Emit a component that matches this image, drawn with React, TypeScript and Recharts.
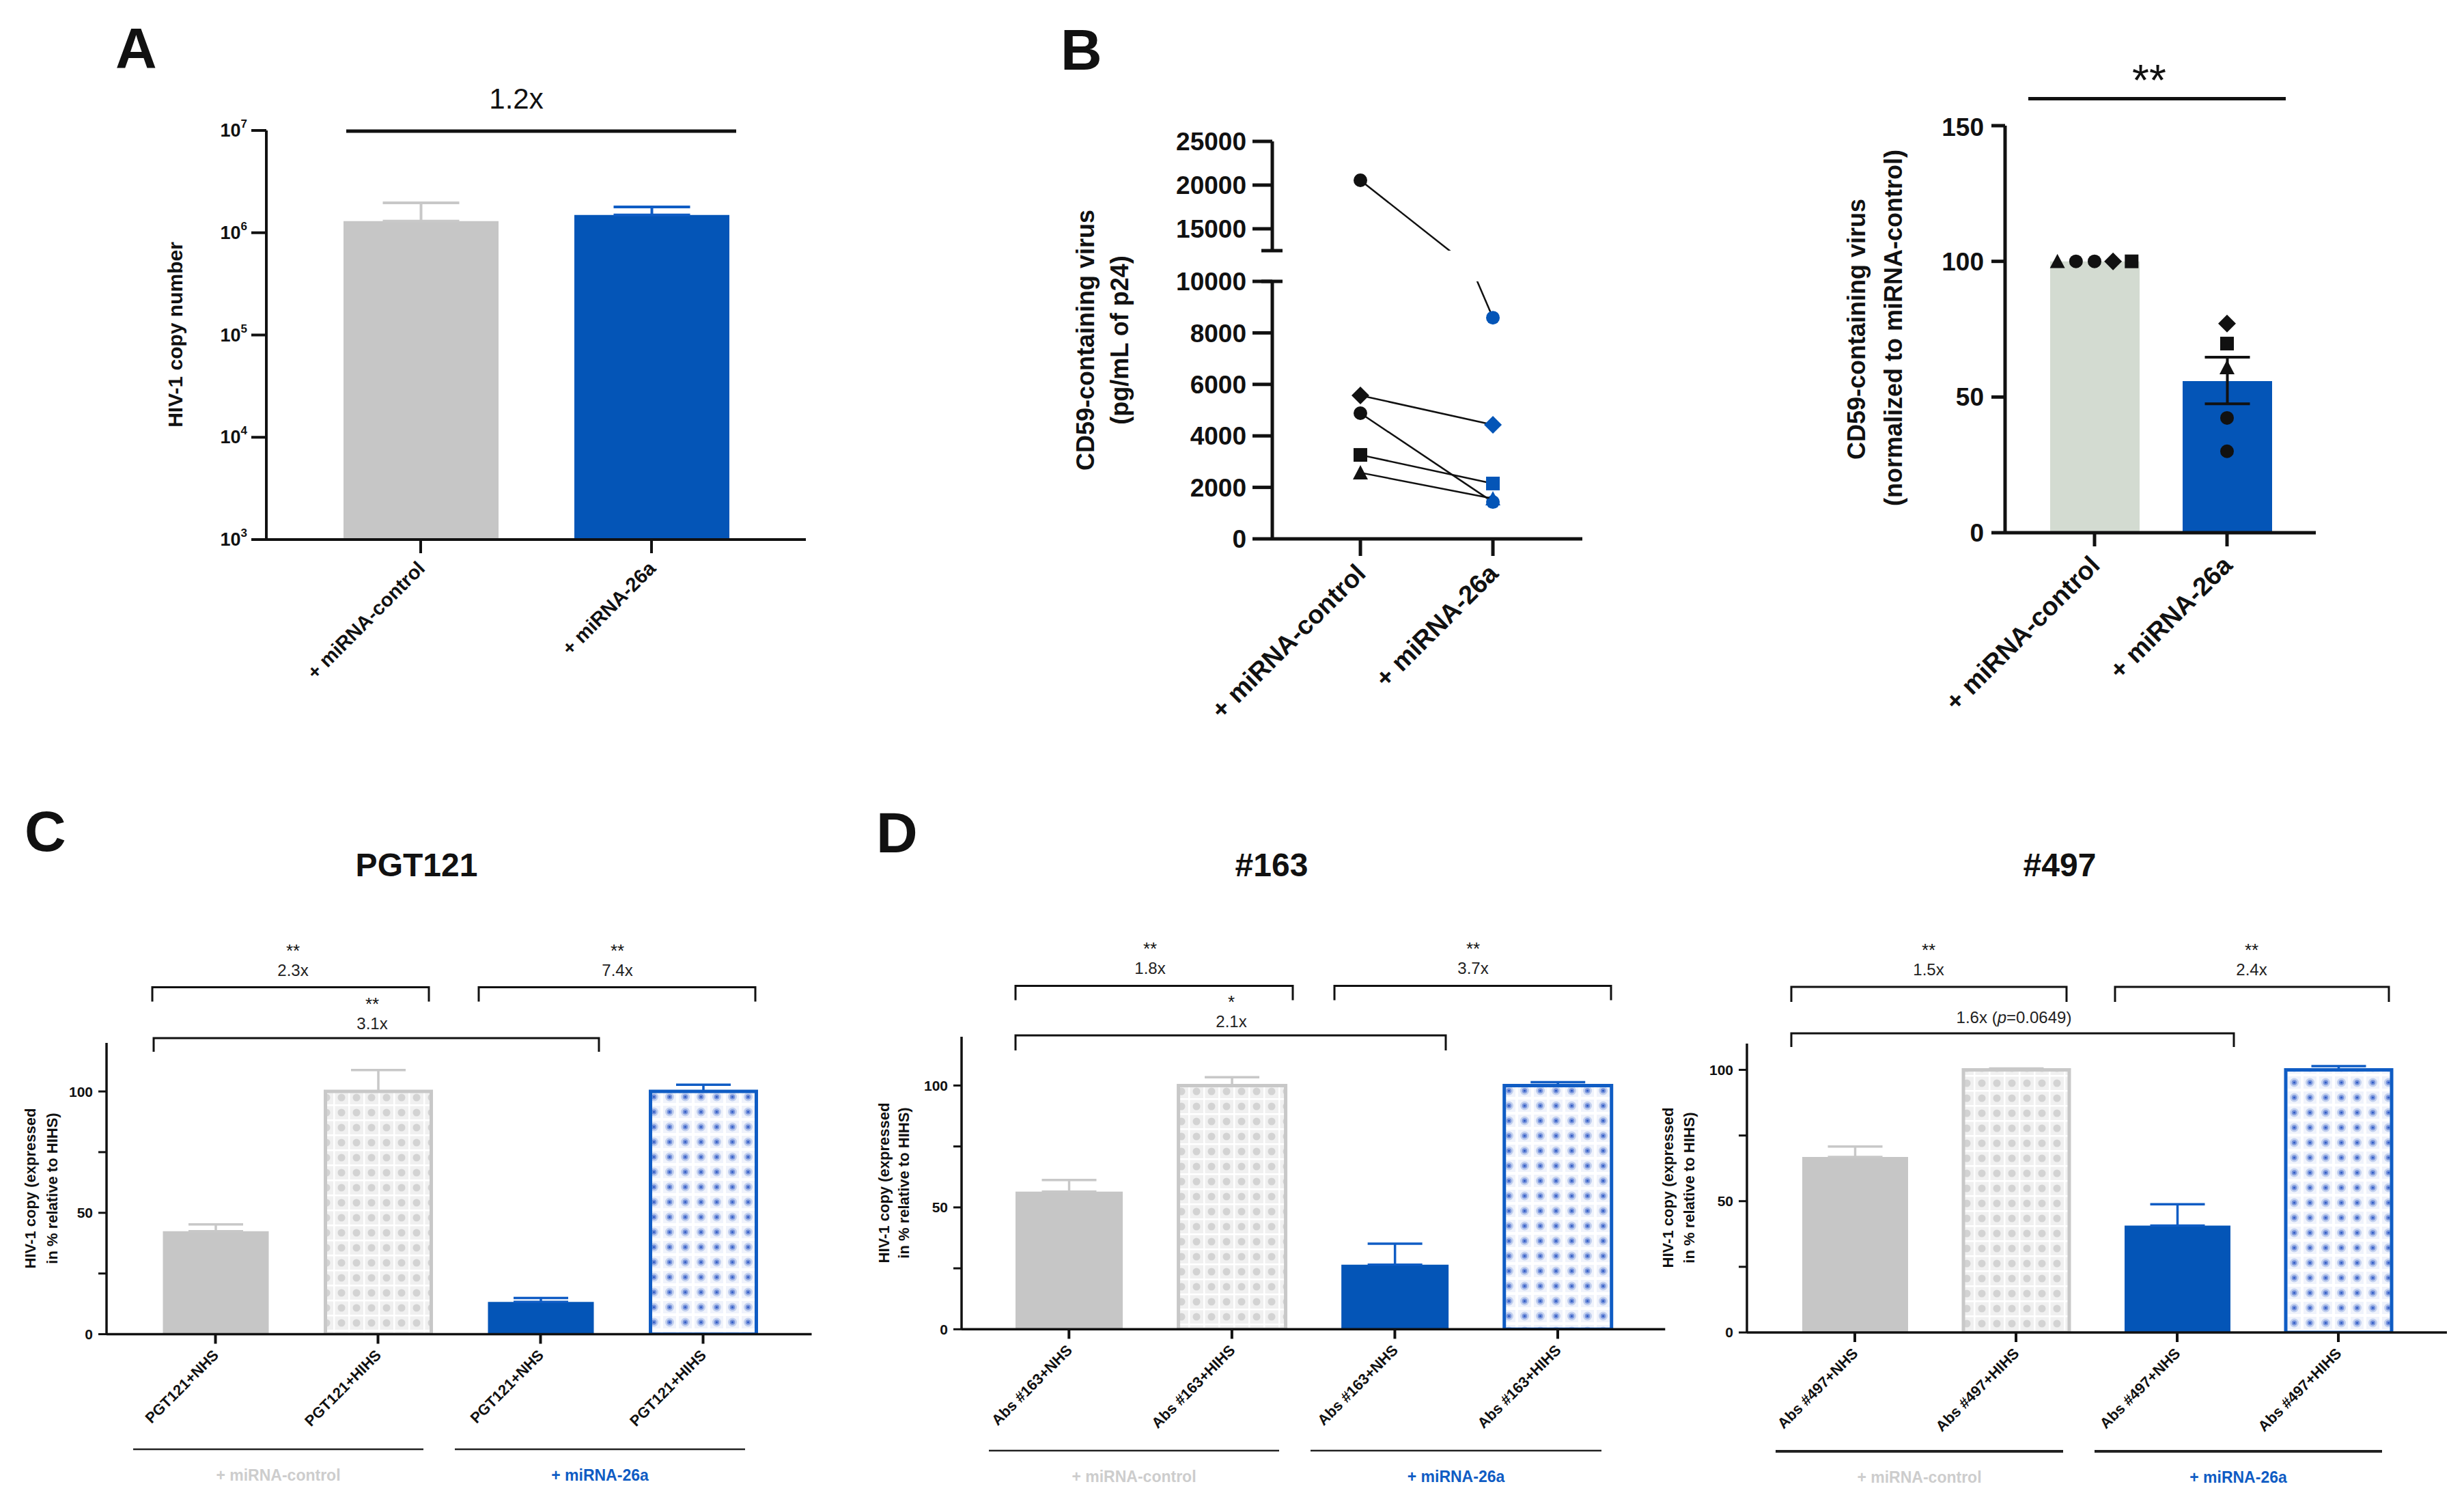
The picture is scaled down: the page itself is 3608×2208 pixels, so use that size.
import React from "react";
import {
  BarChart,
  Bar,
  Cell,
  XAxis,
  YAxis,
  ErrorBar,
  ScatterChart,
  Scatter,
  ComposedChart,
} from "recharts";

const FONT = '"Liberation Sans", Arial, Helvetica, sans-serif';
const INK = "#111111";
const GRAY = "#c6c6c6";
const GRAY_LINE = "#c8c8c8";
const BLUE = "#0455b7";
const BLUE_LINE = "#0f5cc4";
const SAGE = "#d3dbd1";
const LIGHT_LABEL = "#cdcdcd";

// ---- A: HIV-1 copy number (log scale)
const groupNames = ["+ miRNA-control", "+ miRNA-26a"];
const copyMean = [1.3e6, 1.49e6];
const copyErr = [0.66e6, 0.3e6];
const copyTicks = [1e3, 1e4, 1e5, 1e6, 1e7];

// ---- B left: CD59-containing virus per donor (pg/mL of p24)
const donorShape = ["circle", "diamond", "circle", "square", "triangle"];
const p24Control = [20550, 5570, 4880, 3260, 2570];
const p24Mir = [8590, 4430, 1430, 2150, 1565];
const p24LowTicks = [0, 2000, 4000, 6000, 8000, 10000];
const p24HighTicks = [15000, 20000, 25000];

// ---- B right: normalized to miRNA-control
const normMean = [100, 55.9];
const normSem = [null, [8.4, 8.8]];
const normControl = [100, 100, 100, 100, 100];
const normMir = [42.3, 77.1, 30.0, 69.7, 60.9];
const normSpread = [-0.14, 0.14, 0, 0.28, -0.28];
const normTicks = [0, 50, 100, 150];

// ---- C / D: HIV-1 copy in % relative to HIHS
const pctTicks = [0, 25, 50, 75, 100];
const pgtLabels = ["PGT121+NHS", "PGT121+HIHS", "PGT121+NHS", "PGT121+HIHS"];
const pgtMean = [42.4, 100, 13.3, 100];
const pgtErr = [2.8, 8.8, 1.6, 2.8];
const ab163Labels = ["Abs #163+NHS", "Abs #163+HIHS", "Abs #163+NHS", "Abs #163+HIHS"];
const ab163Mean = [56.5, 100, 26.5, 100];
const ab163Err = [4.7, 3.4, 8.6, 1.4];
const ab497Labels = ["Abs #497+NHS", "Abs #497+HIHS", "Abs #497+NHS", "Abs #497+HIHS"];
const ab497Mean = [66.8, 100, 40.7, 100];
const ab497Err = [4.0, 0.5, 8.1, 1.4];

const copyRows = groupNames.map((group, i) => ({
  group,
  mean: copyMean[i],
  errCtrl: i === 0 ? [0, copyErr[i]] : null,
  errMir: i === 1 ? [0, copyErr[i]] : null,
}));

const normRows = groupNames.map((group, i) => ({ group, mean: normMean[i], sem: normSem[i] }));

const makeRows = (labels: string[], mean: number[], err: number[]) =>
  labels.map((label, i) => ({
    label,
    mean: mean[i],
    errCtrl: i < 2 ? [0, err[i]] : null,
    errMir: i >= 2 ? [0, err[i]] : null,
  }));

const slant = (labels: string[] | null, size: number, dx: number, dy: number) => (p: any) => {
  const ax = p.x + dx;
  const ay = p.y + dy;
  const text = labels ? labels[p.payload.value] : p.payload.value;
  return (
    <text
      x={ax}
      y={ay}
      transform={`rotate(-45 ${ax} ${ay})`}
      textAnchor="end"
      fontFamily={FONT}
      fontWeight={700}
      fontSize={size}
      fill={INK}
    >
      {text}
    </text>
  );
};

function PowTick(p: any) {
  const exp = Math.round(Math.log10(p.payload.value));
  return (
    <text x={p.x} y={p.y} textAnchor="end" dominantBaseline="central" fontFamily={FONT} fontWeight={700} fontSize={27} fill={INK}>
      10
      <tspan fontSize={17} dy={-10}>
        {exp}
      </tspan>
    </text>
  );
}

function Marker({ cx, cy, kind, fill, r = 10 }: any) {
  if (cx == null || cy == null) return null;
  if (kind === "square") return <rect x={cx - r} y={cy - r} width={2 * r} height={2 * r} fill={fill} />;
  if (kind === "diamond") {
    const d = r * 1.3;
    return <polygon points={`${cx},${cy - d} ${cx + d},${cy} ${cx},${cy + d} ${cx - d},${cy}`} fill={fill} />;
  }
  if (kind === "triangle") {
    const h = r * 1.1;
    return <polygon points={`${cx},${cy - h} ${cx + h},${cy + h * 0.9} ${cx - h},${cy + h * 0.9}`} fill={fill} />;
  }
  return <circle cx={cx} cy={cy} r={r} fill={fill} />;
}

const at = (left: number, top: number): React.CSSProperties => ({ position: "absolute", left, top });

function PanelA() {
  return (
    <div style={at(240, 171)}>
      <BarChart width={960} height={869} data={copyRows} margin={{ top: 20, right: 20, left: 0, bottom: 0 }}>
        <XAxis
          dataKey="group"
          height={250}
          padding={{ left: 57, right: 57 }}
          interval={0}
          axisLine={{ stroke: INK, strokeWidth: 4 }}
          tickLine={{ stroke: INK, strokeWidth: 4 }}
          tickSize={20}
          tickMargin={0}
          tick={slant(null, 29, 8, 24)}
        />
        <YAxis
          type="number"
          scale="log"
          width={150}
          domain={[1e3, 1e7]}
          ticks={copyTicks}
          allowDataOverflow
          axisLine={{ stroke: INK, strokeWidth: 4 }}
          tickLine={{ stroke: INK, strokeWidth: 4 }}
          tickSize={22}
          tickMargin={6}
          tick={PowTick}
        />
        <Bar dataKey="mean" barSize={227} isAnimationActive={false}>
          <Cell fill={GRAY} />
          <Cell fill={BLUE} />
          <ErrorBar dataKey="errCtrl" width={56} stroke={GRAY_LINE} strokeWidth={4} isAnimationActive={false} />
          <ErrorBar dataKey="errMir" width={56} stroke={BLUE_LINE} strokeWidth={4} isAnimationActive={false} />
        </Bar>
      </BarChart>
    </div>
  );
}

const bAxis = { stroke: INK, strokeWidth: 5 };
const bTick = { fontSize: 37, fontWeight: 700, fill: INK, fontFamily: FONT };
const donorData = (i: number) => [
  { x: 0, y: p24Control[i] },
  { x: 1, y: p24Mir[i] },
];

function PanelBLeft() {
  const xDomain = [-0.665, 1.675];
  const scatters = donorShape.map((kind, i) => (
    <Scatter
      key={i}
      data={donorData(i)}
      dataKey="y"
      line={{ stroke: INK, strokeWidth: 2.5 }}
      isAnimationActive={false}
      shape={(p: any) => <Marker cx={p.cx} cy={p.cy} kind={kind} fill={p.payload.x === 0 ? INK : BLUE} />}
    />
  ));
  return (
    <>
      <div style={at(1663, 182)}>
        <ScatterChart width={674} height={185} margin={{ top: 25, right: 20, left: 0, bottom: 0 }}>
          <XAxis type="number" dataKey="x" domain={xDomain} hide allowDataOverflow />
          <YAxis
            type="number"
            width={200}
            domain={[12500, 25000]}
            ticks={p24HighTicks}
            allowDataOverflow
            axisLine={bAxis}
            tickLine={bAxis}
            tickSize={29}
            tickMargin={9}
            tick={bTick}
          />
          {scatters}
        </ScatterChart>
      </div>
      <div style={at(1663, 387)}>
        <ScatterChart width={674} height={702} margin={{ top: 25, right: 20, left: 0, bottom: 0 }}>
          <XAxis
            type="number"
            dataKey="x"
            domain={xDomain}
            ticks={[0, 1]}
            allowDataOverflow
            height={300}
            axisLine={bAxis}
            tickLine={bAxis}
            tickSize={25}
            tickMargin={0}
            tick={slant(groupNames, 38, 10, 28)}
          />
          <YAxis
            type="number"
            width={200}
            domain={[0, 10000]}
            ticks={p24LowTicks}
            allowDataOverflow
            axisLine={bAxis}
            tickLine={bAxis}
            tickSize={29}
            tickMargin={9}
            tick={bTick}
          />
          {scatters}
        </ScatterChart>
      </div>
    </>
  );
}

function PanelBRight() {
  return (
    <div style={at(2736, 164)}>
      <ComposedChart width={675} height={916} data={normRows} margin={{ top: 20, right: 20, left: 0, bottom: 0 }}>
        <XAxis
          dataKey="group"
          height={300}
          padding={{ left: 34, right: 33 }}
          interval={0}
          axisLine={bAxis}
          tickLine={bAxis}
          tickSize={20}
          tickMargin={0}
          tick={slant(null, 38, 10, 30)}
        />
        <XAxis xAxisId="n" type="number" dataKey="x" domain={[-0.675, 1.67]} hide allowDataOverflow />
        <YAxis
          type="number"
          width={200}
          domain={[0, 150]}
          ticks={normTicks}
          allowDataOverflow
          axisLine={bAxis}
          tickLine={bAxis}
          tickSize={20}
          tickMargin={11}
          tick={bTick}
        />
        <Bar dataKey="mean" barSize={131} isAnimationActive={false}>
          <Cell fill={SAGE} />
          <Cell fill={BLUE} />
          <ErrorBar dataKey="sem" width={33} stroke={INK} strokeWidth={4} isAnimationActive={false} />
        </Bar>
        {donorShape.map((kind, i) => (
          <Scatter
            key={i}
            xAxisId="n"
            dataKey="y"
            data={[
              { x: normSpread[i], y: normControl[i] },
              { x: 1, y: normMir[i] },
            ]}
            isAnimationActive={false}
            shape={(p: any) => <Marker cx={p.cx} cy={p.cy} kind={kind} fill={INK} />}
          />
        ))}
      </ComposedChart>
    </div>
  );
}

type CompProps = {
  left: number;
  top: number;
  pw: number;
  ph: number;
  ymax: number;
  pad: [number, number];
  barW: number;
  labels: string[];
  mean: number[];
  err: number[];
};

function CompPanel({ left, top, pw, ph, ymax, pad, barW, labels, mean, err }: CompProps) {
  const rows = makeRows(labels, mean, err);
  const axis = { stroke: INK, strokeWidth: 3.5 };
  return (
    <div style={at(left - 130, top - 20)}>
      <BarChart width={130 + pw + 20} height={20 + ph + 180} data={rows} margin={{ top: 20, right: 20, left: 0, bottom: 0 }}>
        <XAxis
          dataKey="label"
          height={180}
          padding={{ left: pad[0], right: pad[1] }}
          interval={0}
          axisLine={axis}
          tickLine={{ stroke: INK, strokeWidth: 4 }}
          tickSize={14}
          tickMargin={0}
          tick={slant(null, 22, 6, 18)}
        />
        <YAxis
          type="number"
          width={130}
          domain={[0, ymax]}
          ticks={pctTicks}
          allowDataOverflow
          axisLine={axis}
          tickLine={{ stroke: INK, strokeWidth: 3 }}
          tickSize={12}
          tickMargin={8}
          tickFormatter={(v: number) => (v % 50 === 0 ? String(v) : "")}
          tick={{ fontSize: 21, fontWeight: 700, fill: INK, fontFamily: FONT }}
        />
        <Bar dataKey="mean" barSize={barW} isAnimationActive={false}>
          <Cell fill={GRAY} />
          <Cell fill="url(#patGray)" stroke={GRAY_LINE} strokeWidth={5} />
          <Cell fill={BLUE} />
          <Cell fill="url(#patBlue)" stroke={BLUE_LINE} strokeWidth={5} />
          <ErrorBar dataKey="errCtrl" width={40} stroke={GRAY_LINE} strokeWidth={3.5} isAnimationActive={false} />
          <ErrorBar dataKey="errMir" width={40} stroke={BLUE_LINE} strokeWidth={3.5} isAnimationActive={false} />
        </Bar>
      </BarChart>
    </div>
  );
}

function Patterns() {
  return (
    <svg width={0} height={0} style={{ position: "absolute" }}>
      <defs>
        <pattern id="patGray" width={22} height={22} patternUnits="userSpaceOnUse">
          <rect width={22} height={22} fill="#f0f0f0" />
          <rect width={22} height={2.5} fill="#ffffff" />
          <rect width={2.5} height={22} fill="#ffffff" />
          <circle cx={12} cy={12} r={5.5} fill="#d3d3d3" />
        </pattern>
        <pattern id="patBlue" width={23} height={22} patternUnits="userSpaceOnUse">
          <rect width={23} height={22} fill="#ffffff" />
          <rect x={2} y={2} width={19} height={18} fill="#f0f3fb" />
          <circle cx={11.5} cy={11} r={6.5} fill="#c2d0ef" />
          <circle cx={11.5} cy={11} r={3.8} fill="#7994dc" />
          <circle cx={11.5} cy={11} r={1.6} fill="#2f5cc4" />
        </pattern>
      </defs>
    </svg>
  );
}

const T = (props: any) => <text fontFamily={FONT} fill={INK} {...props} />;

function VTitle({ x, y, size, children }: any) {
  return (
    <text
      transform={`translate(${x} ${y}) rotate(-90)`}
      textAnchor="middle"
      dominantBaseline="central"
      fontFamily={FONT}
      fontWeight={700}
      fontSize={size}
      fill={INK}
    >
      {children}
    </text>
  );
}

function Bracket({ x1, x2, y, drop }: any) {
  return <path d={`M${x1} ${y + drop} V${y} H${x2} V${y + drop}`} fill="none" stroke={INK} strokeWidth={3} />;
}

// stars sit just above the fold-change text
function Sig({ x, y, stars, fold }: any) {
  return (
    <>
      <T x={x} y={y - 6} fontSize={26} textAnchor="middle">
        {stars}
      </T>
      <T x={x} y={y + 22} fontSize={24} textAnchor="middle" fill="#222">
        {fold}
      </T>
    </>
  );
}

function Groups({ y, ctrl, mir, ly, stroke = 2.5 }: any) {
  return (
    <>
      <line x1={ctrl[0]} x2={ctrl[1]} y1={y} y2={y} stroke="#222" strokeWidth={stroke} />
      <line x1={mir[0]} x2={mir[1]} y1={y} y2={y} stroke="#222" strokeWidth={stroke} />
      <T x={(ctrl[0] + ctrl[1]) / 2} y={ly} fontSize={23} fontWeight={700} textAnchor="middle" fill={LIGHT_LABEL}>
        + miRNA-control
      </T>
      <T x={(mir[0] + mir[1]) / 2} y={ly} fontSize={23} fontWeight={700} textAnchor="middle" fill={BLUE_LINE}>
        + miRNA-26a
      </T>
    </>
  );
}

function Annotations() {
  return (
    <svg width={3608} height={2208} style={{ position: "absolute", left: 0, top: 0, pointerEvents: "none" }}>
      {/* panel letters */}
      <T x={169} y={100} fontSize={84} fontWeight={700}>A</T>
      <T x={1553} y={102} fontSize={84} fontWeight={700}>B</T>
      <T x={36} y={1246} fontSize={84} fontWeight={700}>C</T>
      <T x={1283} y={1248} fontSize={84} fontWeight={700}>D</T>

      {/* A */}
      <T x={756} y={159} fontSize={42} textAnchor="middle">1.2x</T>
      <line x1={507} x2={1078} y1={192} y2={192} stroke={INK} strokeWidth={5} />
      <VTitle x={256} y={490} size={30}>HIV-1 copy number</VTitle>

      {/* B left */}
      <VTitle x={1589} y={498} size={36}>CD59-containing virus</VTitle>
      <VTitle x={1639} y={498} size={36}>(pg/mL of p24)</VTitle>
      <line x1={1847} x2={1878} y1={367} y2={367} stroke={INK} strokeWidth={5} />
      <line x1={1847} x2={1878} y1={412} y2={412} stroke={INK} strokeWidth={5} />

      {/* B right */}
      <VTitle x={2718} y={482} size={36}>CD59-containing virus</VTitle>
      <VTitle x={2772} y={480} size={36}>(normalized to miRNA-control)</VTitle>
      <T x={3147} y={140} fontSize={64} textAnchor="middle">**</T>
      <line x1={2970} x2={3347} y1={144.5} y2={144.5} stroke={INK} strokeWidth={5} />

      {/* C */}
      <T x={610} y={1283} fontSize={48} fontWeight={700} textAnchor="middle">PGT121</T>
      <VTitle x={44} y={1740} size={22}>HIV-1 copy (expressed</VTitle>
      <VTitle x={76} y={1740} size={22}>in % relative to HIHS)</VTitle>
      <Bracket x1={223} x2={628} y={1445.5} drop={21} />
      <Bracket x1={701} x2={1106} y={1445.5} drop={21} />
      <Bracket x1={225} x2={877} y={1520} drop={20} />
      <Sig x={429} y={1407} stars="**" fold="2.3x" />
      <Sig x={904} y={1407} stars="**" fold="7.4x" />
      <Sig x={545} y={1485} stars="**" fold="3.1x" />
      <Groups y={2122} ctrl={[195, 620]} mir={[666, 1091]} ly={2168} />

      {/* D left */}
      <T x={1862} y={1283} fontSize={48} fontWeight={700} textAnchor="middle">#163</T>
      <VTitle x={1294} y={1732} size={22}>HIV-1 copy (expressed</VTitle>
      <VTitle x={1323} y={1732} size={22}>in % relative to HIHS)</VTitle>
      <Bracket x1={1487} x2={1893} y={1443.5} drop={21} />
      <Bracket x1={1954} x2={2359} y={1443.5} drop={21} />
      <Bracket x1={1487} x2={2117} y={1516} drop={22} />
      <Sig x={1684} y={1404} stars="**" fold="1.8x" />
      <Sig x={2157} y={1404} stars="**" fold="3.7x" />
      <Sig x={1803} y={1482} stars="*" fold="2.1x" />
      <Groups y={2124} ctrl={[1448, 1873]} mir={[1919, 2345]} ly={2170} />

      {/* D right */}
      <T x={3016} y={1283} fontSize={48} fontWeight={700} textAnchor="middle">#497</T>
      <VTitle x={2442} y={1739} size={22}>HIV-1 copy (expressed</VTitle>
      <VTitle x={2473} y={1739} size={22}>in % relative to HIHS)</VTitle>
      <Bracket x1={2623} x2={3026} y={1445} drop={22} />
      <Bracket x1={3097} x2={3498} y={1445} drop={22} />
      <Bracket x1={2623} x2={3271} y={1513} drop={20} />
      <Sig x={2824} y={1406} stars="**" fold="1.5x" />
      <Sig x={3297} y={1406} stars="**" fold="2.4x" />
      <T x={2949} y={1498} fontSize={24} textAnchor="middle" fill="#222">
        1.6x (<tspan fontStyle="italic">p</tspan>=0.0649)
      </T>
      <Groups y={2125} ctrl={[2600, 3021]} mir={[3067, 3488]} ly={2171} stroke={4} />
    </svg>
  );
}

export default function App() {
  return (
    <div style={{ position: "relative", width: 3608, height: 2208, background: "#ffffff", overflow: "hidden" }}>
      <style>{"body{margin:0}"}</style>
      <Patterns />
      <PanelA />
      <PanelBLeft />
      <PanelBRight />
      <CompPanel left={155.5} top={1526.5} pw={1032.5} ph={426.5} ymax={120} pad={[40.5, 40]} barW={155} labels={pgtLabels} mean={pgtMean} err={pgtErr} />
      <CompPanel left={1407.7} top={1517.7} pw={1030.3} ph={428.3} ymax={120} pad={[38, 38]} barW={157} labels={ab163Labels} mean={ab163Mean} err={ab163Err} />
      <CompPanel left={2558} top={1528} pw={1025} ph={423} ymax={110} pad={[40, 41]} barW={155} labels={ab497Labels} mean={ab497Mean} err={ab497Err} />
      <Annotations />
    </div>
  );
}
